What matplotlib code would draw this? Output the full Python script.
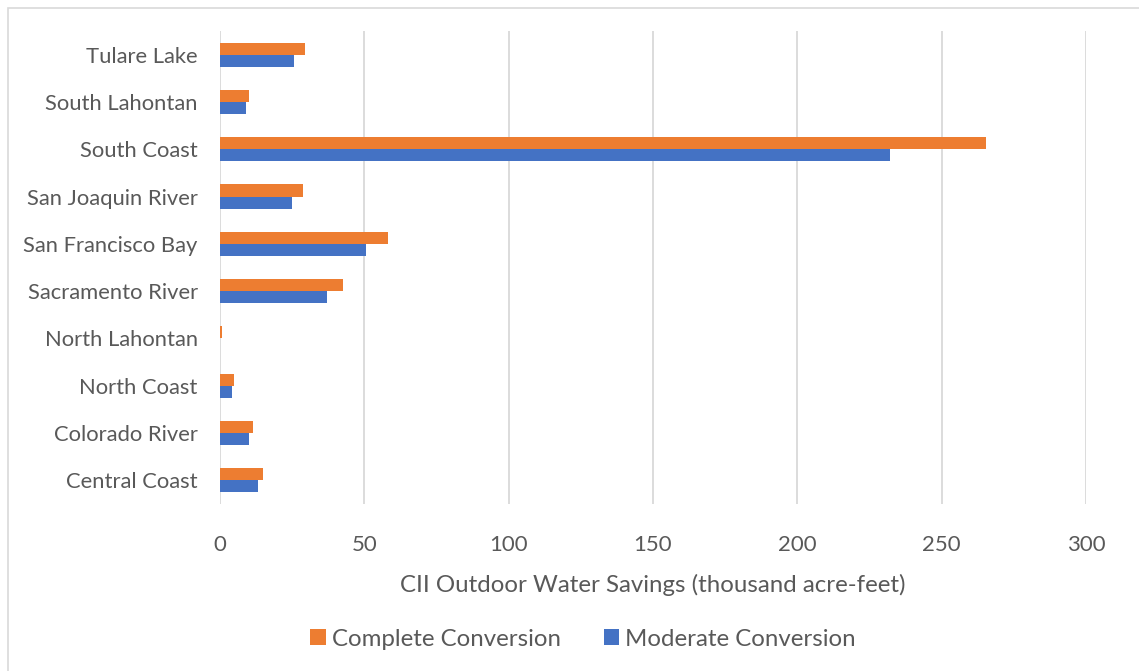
import matplotlib
matplotlib.use("Agg")
import matplotlib.pyplot as plt
from matplotlib.patches import Rectangle
import numpy as np

regions = ["Central Coast", "Colorado River", "North Coast", "North Lahontan",
           "Sacramento River", "San Francisco Bay", "San Joaquin River",
           "South Coast", "South Lahontan", "Tulare Lake"]
complete = [14.8, 11.6, 5.0, 0.6, 42.5, 58.1, 28.8, 265.5, 10.1, 29.5]
moderate = [13.0, 10.1, 4.2, 0.1, 36.9, 50.7, 25.1, 232.2, 8.9, 25.8]
xticks = [0, 50, 100, 150, 200, 250, 300]

ORANGE = "#ED7D31"
BLUE = "#4472C4"
GRID = "#D9D9D9"
TEXT = "#595959"
FONT = "Lato"

W, H = 1139, 671
fig = plt.figure(figsize=(W / 100, H / 100), dpi=100)
fig.patch.set_facecolor("white")

# thin frame around the chart area
fig.add_artist(Rectangle((8 / W, -0.1), 1.2, 1 - 8 / H + 0.1, transform=fig.transFigure,
                         fill=False, edgecolor="#D9D9D9", linewidth=1.2))

ax = fig.add_axes([220 / W, 1 - 504 / H, (1086 - 220) / W, (504 - 31) / H])
y = np.arange(len(regions))
bh = 0.255
ax.barh(y + bh / 2, complete, height=bh, color=ORANGE, label="Complete Conversion", zorder=3)
ax.barh(y - bh / 2, moderate, height=bh, color=BLUE, label="Moderate Conversion", zorder=3)

ax.set_xlim(0, 300)
ax.set_ylim(-0.5, len(regions) - 0.5)
ax.set_xticks(xticks)
ax.set_xticklabels([str(t) for t in xticks], fontsize=16, color=TEXT, family=FONT)
ax.set_yticks(y)
ax.set_yticklabels(regions, fontsize=15.8, color=TEXT, family=FONT)
ax.tick_params(axis="both", length=0)
ax.tick_params(axis="x", pad=22)
ax.tick_params(axis="y", pad=16)
ax.grid(axis="x", color=GRID, linewidth=1.3, zorder=0)
for s in ax.spines.values():
    s.set_visible(False)
ax.set_xlabel("CII Outdoor Water Savings (thousand acre-feet)", fontsize=17.3,
              color=TEXT, family=FONT, labelpad=14)

leg = fig.legend(loc="center", bbox_to_anchor=(583 / W, 1 - 639 / H), ncol=2, frameon=False,
                 prop={"family": FONT, "size": 17.3}, handlelength=0.65, handleheight=0.65,
                 handletextpad=0.25, columnspacing=1.8)
for t in leg.get_texts():
    t.set_color(TEXT)

fig.savefig("out.png", dpi=100)
